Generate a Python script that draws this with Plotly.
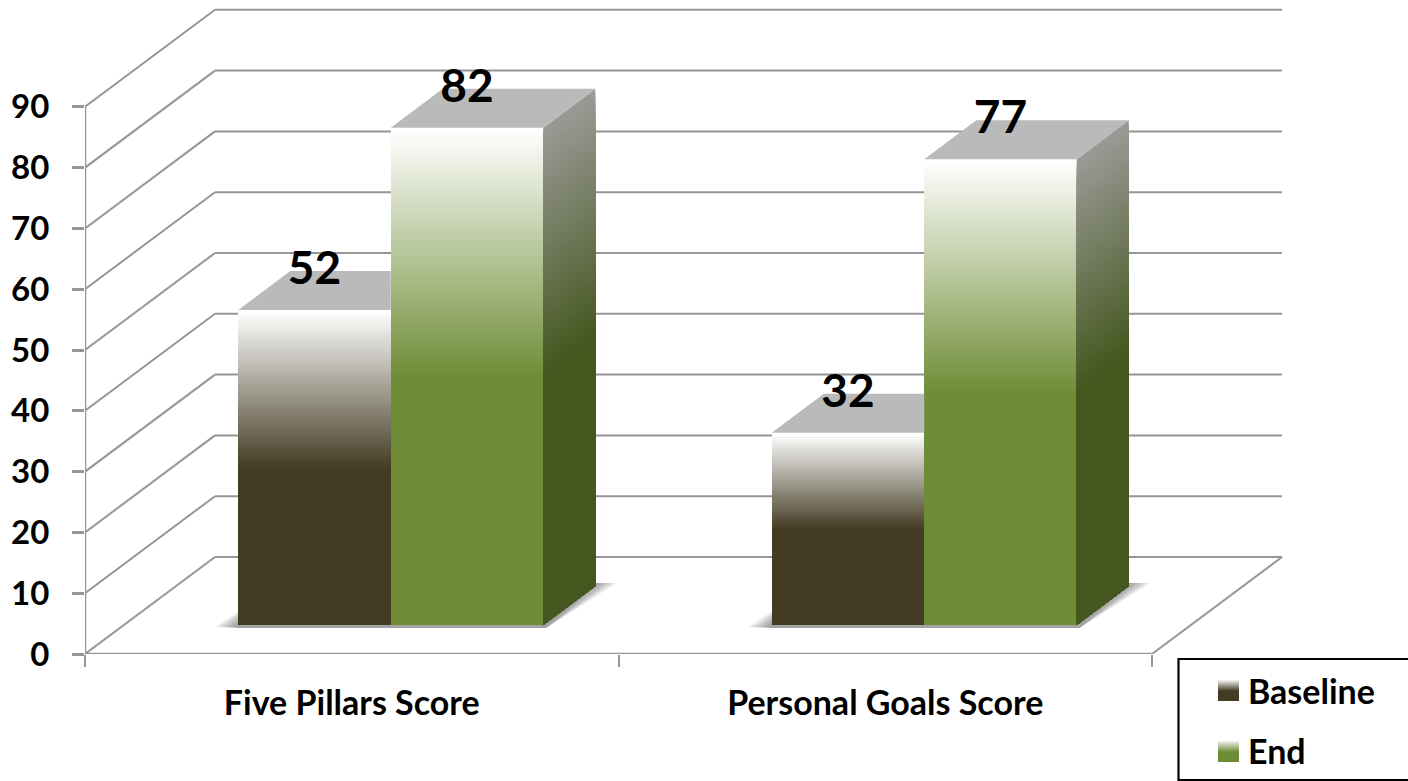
import plotly.graph_objects as go

# ---- data ----
categories = ["Five Pillars Score", "Personal Goals Score"]
baseline = [51.8, 31.6]
end = [81.8, 76.6]
y_ticks = [0, 10, 20, 30, 40, 50, 60, 70, 80, 90]
legend_names = ["Baseline", "End"]

# ---- geometry (pixels of the page -> axis units) ----
W, H = 1408, 781
L, B, T, R = 85, 127, 5, 118
PX_X = 533.5      # pixels per category
PX_Y = 6.08       # pixels per value unit
ux = lambda px: px / PX_X
uy = lambda px: px / PX_Y

WALL_DX, WALL_DY = ux(130), uy(97)
BAR_DX, BAR_DY = ux(52), uy(39)
FRONT_DX, FRONT_DY = ux(39), uy(29)
BAR_W = ux(152.5)
centers = [i + 0.5 for i in range(len(categories))]
x_max = ux(W - R - L)
y_max = uy(H - B - T)

LINE = "#969696"
BASE_COL = (67, 59, 35)
END_COL = (110, 140, 53)
SIDE_TOP = (154, 154, 149)
SIDE_BOT = (68, 87, 30)
TOP_COL = "#bababa"
N = 64


def lerp(a, b, t):
    return "rgb(%d,%d,%d)" % tuple(round(a[i] + (b[i] - a[i]) * t) for i in range(3))


px = lambda p: (p - L) / (W - L - R)
py = lambda p: (H - B - p) / (H - B - T)

fig = go.Figure()
shapes = []

# walls and floor
for v in y_ticks:
    shapes.append(dict(type="line", x0=0, y0=v, x1=WALL_DX, y1=v + WALL_DY, line=dict(color=LINE, width=2), layer="below"))
    shapes.append(dict(type="line", x0=WALL_DX, y0=v + WALL_DY, x1=2 + WALL_DX, y1=v + WALL_DY, line=dict(color=LINE, width=2), layer="below"))
shapes.append(dict(type="line", x0=2, y0=0, x1=2 + WALL_DX, y1=WALL_DY, line=dict(color=LINE, width=2), layer="below"))

# soft floor shadows
for c in centers:
    xl = c - BAR_W + FRONT_DX
    xr = c + BAR_W + FRONT_DX
    for k in [1, .9, .8, .7, .6, .5, .4, .3, .2, .1]:
        path = [
            (xl - ux(24 * k), FRONT_DY - uy(2)),
            (xl, FRONT_DY + uy(14 * k)),
            (xr + BAR_DX, FRONT_DY + BAR_DY + uy(3)),
            (xr + BAR_DX + ux(22 * k), FRONT_DY + BAR_DY + uy(3)),
            (xr + ux(3), FRONT_DY - uy(3)),
            (xl, FRONT_DY - uy(3)),
        ]
        d = "M" + " L".join(f"{x:.5f},{y:.4f}" for x, y in path) + " Z"
        shapes.append(dict(type="path", path=d, fillcolor="rgba(70,70,70,0.065)", line=dict(width=0), layer="below"))

# front faces: painted from the lightest full height down to the solid half
for series, col, offs in [(baseline, BASE_COL, -BAR_W + FRONT_DX), (end, END_COL, FRONT_DX)]:
    for i in range(N + 1):
        t = i / N
        fig.add_trace(go.Bar(
            x=centers, y=[v * (1 - 0.5 * t) for v in series],
            base=FRONT_DY, offset=offs, width=BAR_W,
            marker=dict(color=lerp((255, 255, 255), col, t), line=dict(width=0)),
            showlegend=False, hoverinfo="skip"))

# side faces of the End bars
for i in range(N + 1):
    t = i / N
    xs, ys = [], []
    for c, v in zip(centers, end):
        x0 = c + BAR_W + FRONT_DX
        h = v * (1 - 0.5 * t)
        xs += [x0, x0 + BAR_DX, x0 + BAR_DX, x0, x0, None]
        ys += [FRONT_DY, FRONT_DY + BAR_DY, FRONT_DY + BAR_DY + h, FRONT_DY + h, FRONT_DY, None]
    fig.add_trace(go.Scatter(x=xs, y=ys, mode="lines", fill="toself", fillcolor=lerp(SIDE_TOP, SIDE_BOT, t),
                             line=dict(width=0), showlegend=False, hoverinfo="skip"))

# top faces
xs, ys = [], []
for c, v in zip(centers, baseline):
    x0 = c - BAR_W + FRONT_DX
    top = FRONT_DY + v
    xs += [x0, x0 + BAR_DX, x0 + BAR_W, x0 + BAR_W, x0, None]
    ys += [top, top + BAR_DY, top + BAR_DY, top, top, None]
for c, v in zip(centers, end):
    x0 = c + FRONT_DX
    top = FRONT_DY + v
    xs += [x0, x0 + BAR_DX, x0 + BAR_W + BAR_DX, x0 + BAR_W, x0, None]
    ys += [top, top + BAR_DY, top + BAR_DY, top, top, None]
fig.add_trace(go.Scatter(x=xs, y=ys, mode="lines", fill="toself", fillcolor=TOP_COL, line=dict(width=0),
                         showlegend=False, hoverinfo="skip"))

# front axis lines
fig.add_trace(go.Scatter(x=[0, 0, 2], y=[y_ticks[-1], 0, 0], mode="lines", line=dict(color=LINE, width=2.5),
                         cliponaxis=False, showlegend=False, hoverinfo="skip"))

# value labels
for series, sgn in [(baseline, -0.5), (end, 0.5)]:
    fig.add_trace(go.Scatter(
        x=[c + sgn * BAR_W + FRONT_DX for c in centers],
        y=[v + FRONT_DY + uy(37.5) for v in series],
        mode="text", text=[str(round(v)) for v in series], textposition="middle center",
        textfont=dict(family="Lato", size=46, color="black", weight=700),
        cliponaxis=False, showlegend=False, hoverinfo="skip"))

# legend entries
for name, col in zip(legend_names, [BASE_COL, END_COL]):
    fig.add_trace(go.Scatter(
        x=[None], y=[None], mode="markers", name=name, legendgroup=name,
        marker=dict(symbol="square", size=16, color="rgba(0,0,0,0)", line=dict(width=0))))

# legend frame and gradient swatches
shapes.append(dict(type="rect", xref="paper", yref="paper",
                   x0=px(1178.5), x1=px(W + 4), y0=py(780), y1=py(659),
                   line=dict(color="black", width=2.2), fillcolor="white", layer="above"))
for top_px, col in [(680, BASE_COL), (741, END_COL)]:
    for i in range(12):
        t = i / 11
        shapes.append(dict(type="rect", xref="paper", yref="paper",
                           x0=px(1218), x1=px(1239), y0=py(top_px + 21), y1=py(top_px + 10.5 * t),
                           line=dict(width=0), fillcolor=lerp((238, 238, 232), col, t), layer="above"))

fig.update_layout(
    width=W, height=H, autosize=False,
    margin=dict(l=L, r=R, t=T, b=B, pad=0, autoexpand=False),
    paper_bgcolor="white", plot_bgcolor="white",
    barmode="overlay", bargap=0, shapes=shapes,
    font=dict(family="Lato", color="black"),
    xaxis=dict(range=[0, x_max], tickmode="array", tickvals=centers, ticktext=categories,
               ticks="", showgrid=False, zeroline=False, showline=False, ticklabelstandoff=26,
               tickfont=dict(family="Lato", size=34, color="black", weight=700),
               minor=dict(tickmode="array", tickvals=[0, 1, 2], ticks="outside", ticklen=12, tickwidth=2, tickcolor=LINE)),
    yaxis=dict(range=[0, y_max], tickmode="array", tickvals=y_ticks, ticks="outside", ticklen=12, tickwidth=2.5,
               tickcolor=LINE, showgrid=False, zeroline=False, showline=False, ticklabelstandoff=16,
               tickfont=dict(family="Lato", size=33, color="black", weight=700)),
    legend=dict(x=px(1208), y=py(662), xanchor="left", yanchor="top",
                bgcolor="rgba(0,0,0,0)", borderwidth=0, tracegroupgap=13, itemwidth=30,
                font=dict(family="Lato", size=34, color="black", weight=700)),
)

fig.write_html("out.html", config=dict(displayModeBar=False),
               post_script="document.body.style.margin='0';document.documentElement.style.overflow='hidden';")
